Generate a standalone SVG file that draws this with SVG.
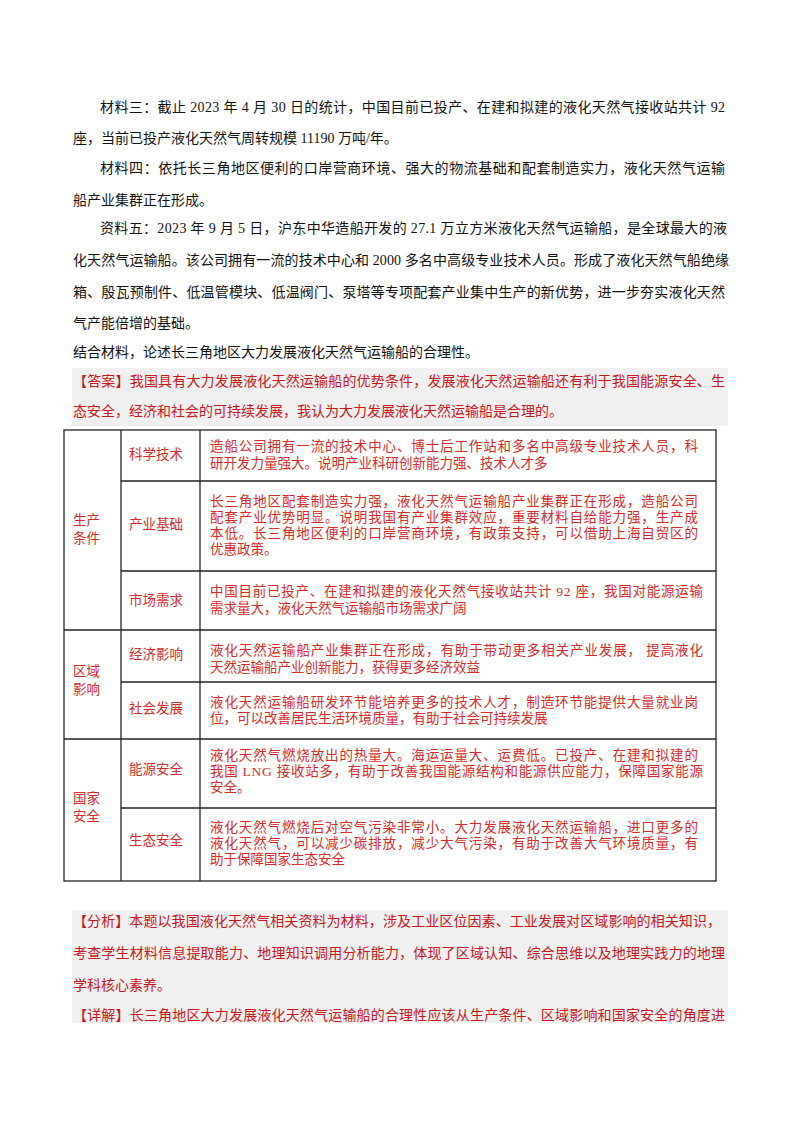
<svg xmlns="http://www.w3.org/2000/svg" width="800" height="1132" viewBox="0 0 800 1132">
<style>
.b{font-family:"Liberation Serif","Noto Sans CJK SC",serif;font-size:14px;fill:#111}
.r{font-family:"Liberation Serif","Noto Sans CJK SC",serif;font-size:14px;fill:#c8161d}
.t{font-family:"Liberation Serif","Noto Sans CJK SC",serif;font-size:13.5px;fill:#d42b2b}
.g{fill:#f0f0f0}
.ln{stroke:#222;stroke-width:1.3;fill:none}
</style>
<rect width="800" height="1132" fill="#fff"/>
<g id="materials">
<text class="b" x="100" y="112" textLength="625" lengthAdjust="spacing">材料三：截止 2023 年 4 月 30 日的统计，中国目前已投产、在建和拟建的液化天然气接收站共计 92</text>
<text class="b" x="73" y="143">座，当前已投产液化天然气周转规模 11190 万吨/年。</text>
<text class="b" x="100" y="173" textLength="625" lengthAdjust="spacing">材料四：依托长三角地区便利的口岸营商环境、强大的物流基础和配套制造实力，液化天然气运输</text>
<text class="b" x="73" y="205">船产业集群正在形成。</text>
<text class="b" x="100" y="233" textLength="627" lengthAdjust="spacing">资料五：2023 年 9 月 5 日，沪东中华造船开发的 27.1 万立方米液化天然气运输船，是全球最大的液</text>
<text class="b" x="73" y="265" textLength="656" lengthAdjust="spacing">化天然气运输船。该公司拥有一流的技术中心和 2000 多名中高级专业技术人员。形成了液化天然气船绝缘</text>
<text class="b" x="73" y="297" textLength="652" lengthAdjust="spacing">箱、殷瓦预制件、低温管模块、低温阀门、泵塔等专项配套产业集中生产的新优势，进一步夯实液化天然</text>
<text class="b" x="73" y="328">气产能倍增的基础。</text>
<text class="b" x="73" y="357">结合材料，论述长三角地区大力发展液化天然气运输船的合理性。</text>
</g>
<g id="answer">
<rect class="g" x="72" y="368" width="656" height="58"/>
<text class="r" x="73" y="386" textLength="652" lengthAdjust="spacing">【答案】我国具有大力发展液化天然运输船的优势条件，发展液化天然运输船还有利于我国能源安全、生</text>
<text class="r" x="73" y="416">态安全，经济和社会的可持续发展，我认为大力发展液化天然运输船是合理的。</text>
</g>
<g id="table">
<rect class="ln" x="64" y="430" width="652" height="451"/>
<line class="ln" x1="121" y1="430" x2="121" y2="881"/>
<line class="ln" x1="200" y1="430" x2="200" y2="881"/>
<line class="ln" x1="121" y1="481" x2="716" y2="481"/>
<line class="ln" x1="121" y1="571" x2="716" y2="571"/>
<line class="ln" x1="64" y1="630" x2="716" y2="630"/>
<line class="ln" x1="121" y1="682" x2="716" y2="682"/>
<line class="ln" x1="64" y1="739" x2="716" y2="739"/>
<line class="ln" x1="121" y1="808" x2="716" y2="808"/>
<g class="t">
<text x="73" y="525">生产</text><text x="73" y="543">条件</text>
<text x="73" y="676">区域</text><text x="73" y="694">影响</text>
<text x="73" y="803">国家</text><text x="73" y="821">安全</text>
<text x="129" y="459">科学技术</text>
<text x="129" y="529">产业基础</text>
<text x="129" y="605">市场需求</text>
<text x="129" y="659">经济影响</text>
<text x="129" y="713">社会发展</text>
<text x="129" y="774">能源安全</text>
<text x="129" y="845">生态安全</text>
<text x="210" y="451" textLength="488" lengthAdjust="spacing">造船公司拥有一流的技术中心、博士后工作站和多名中高级专业技术人员，科</text>
<text x="210" y="468">研开发力量强大。说明产业科研创新能力强、技术人才多</text>
<text x="210" y="506" textLength="488" lengthAdjust="spacing">长三角地区配套制造实力强，液化天然气运输船产业集群正在形成，造船公司</text>
<text x="210" y="522" textLength="488" lengthAdjust="spacing">配套产业优势明显。说明我国有产业集群效应，重要材料自给能力强，生产成</text>
<text x="210" y="538" textLength="488" lengthAdjust="spacing">本低。长三角地区便利的口岸营商环境，有政策支持，可以借助上海自贸区的</text>
<text x="210" y="554">优惠政策。</text>
<text x="210" y="596" textLength="493" lengthAdjust="spacing">中国目前已投产、在建和拟建的液化天然气接收站共计 92 座，我国对能源运输</text>
<text x="210" y="613">需求量大，液化天然气运输船市场需求广阔</text>
<text x="210" y="655" textLength="493" lengthAdjust="spacing">液化天然运输船产业集群正在形成，有助于带动更多相关产业发展，  提高液化</text>
<text x="210" y="672">天然运输船产业创新能力，获得更多经济效益</text>
<text x="210" y="707" textLength="488" lengthAdjust="spacing">液化天然运输船研发环节能培养更多的技术人才，制造环节能提供大量就业岗</text>
<text x="210" y="723">位，可以改善居民生活环境质量，有助于社会可持续发展</text>
<text x="210" y="760" textLength="488" lengthAdjust="spacing">液化天然气燃烧放出的热量大。海运运量大、运费低。已投产、在建和拟建的</text>
<text x="210" y="776" textLength="493" lengthAdjust="spacing">我国 LNG 接收站多，有助于改善我国能源结构和能源供应能力，保障国家能源</text>
<text x="210" y="792">安全。</text>
<text x="210" y="832" textLength="488" lengthAdjust="spacing">液化天然气燃烧后对空气污染非常小。大力发展液化天然运输船，进口更多的</text>
<text x="210" y="848" textLength="488" lengthAdjust="spacing">液化天然气，可以减少碳排放，减少大气污染，有助于改善大气环境质量，有</text>
<text x="210" y="864">助于保障国家生态安全</text>
</g>
</g>
<g id="analysis">
<rect class="g" x="72" y="910" width="656" height="113"/>
<text class="r" x="73" y="926" textLength="648" lengthAdjust="spacing">【分析】本题以我国液化天然气相关资料为材料，涉及工业区位因素、工业发展对区域影响的相关知识，</text>
<text class="r" x="73" y="958" textLength="652" lengthAdjust="spacing">考查学生材料信息提取能力、地理知识调用分析能力，体现了区域认知、综合思维以及地理实践力的地理</text>
<text class="r" x="73" y="990">学科核心素养。</text>
<text class="r" x="73" y="1020" textLength="652" lengthAdjust="spacing">【详解】长三角地区大力发展液化天然气运输船的合理性应该从生产条件、区域影响和国家安全的角度进</text>
</g>
</svg>
